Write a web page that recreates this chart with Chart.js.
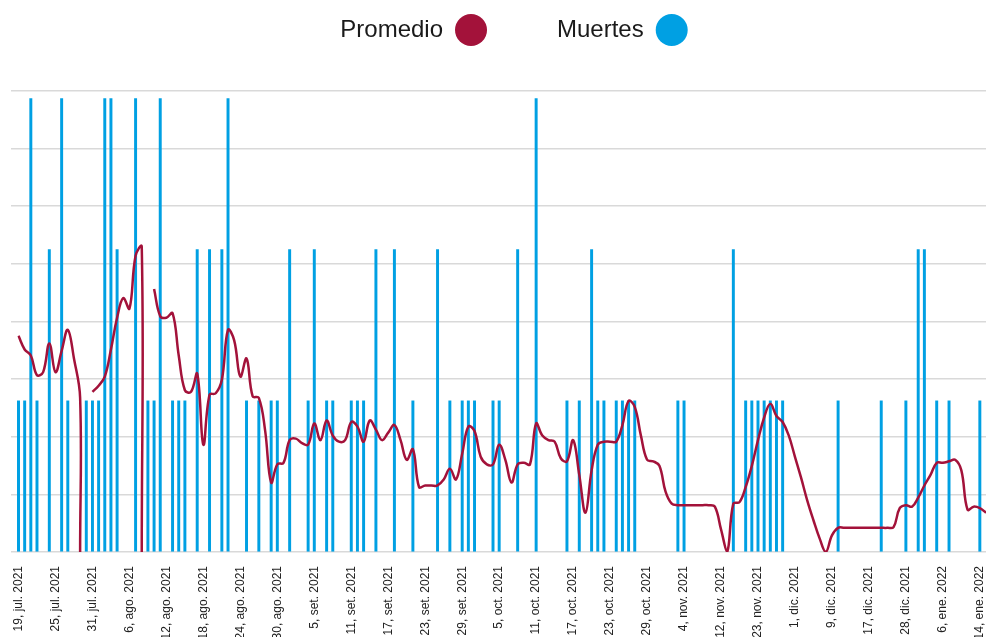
<!DOCTYPE html>
<html lang="es">
<head>
<meta charset="utf-8">
<title>Promedio y muertes</title>
<script src="https://cdn.jsdelivr.net/npm/chart.js@4.4.1/dist/chart.umd.min.js"></script>
<style>
  html, body { margin: 0; padding: 0; background: #fff; }
  #grafico { display: block; }
</style>
</head>
<body>
<canvas id="grafico" width="986" height="637"></canvas>
<script>
// --- datos ---
const fechas = [
  '19, jul. 2021', '20, jul. 2021', '21, jul. 2021', '22, jul. 2021', '23, jul. 2021', '24, jul. 2021',
  '25, jul. 2021', '26, jul. 2021', '27, jul. 2021', '28, jul. 2021', '29, jul. 2021', '30, jul. 2021',
  '31, jul. 2021', '1, ago. 2021', '2, ago. 2021', '3, ago. 2021', '4, ago. 2021', '5, ago. 2021',
  '6, ago. 2021', '7, ago. 2021', '8, ago. 2021', '9, ago. 2021', '10, ago. 2021', '11, ago. 2021',
  '12, ago. 2021', '13, ago. 2021', '14, ago. 2021', '15, ago. 2021', '16, ago. 2021', '17, ago. 2021',
  '18, ago. 2021', '19, ago. 2021', '20, ago. 2021', '21, ago. 2021', '22, ago. 2021', '23, ago. 2021',
  '24, ago. 2021', '25, ago. 2021', '26, ago. 2021', '27, ago. 2021', '28, ago. 2021', '29, ago. 2021',
  '30, ago. 2021', '31, ago. 2021', '1, set. 2021', '2, set. 2021', '3, set. 2021', '4, set. 2021',
  '5, set. 2021', '6, set. 2021', '7, set. 2021', '8, set. 2021', '9, set. 2021', '10, set. 2021',
  '11, set. 2021', '12, set. 2021', '13, set. 2021', '14, set. 2021', '15, set. 2021', '16, set. 2021',
  '17, set. 2021', '18, set. 2021', '19, set. 2021', '20, set. 2021', '21, set. 2021', '22, set. 2021',
  '23, set. 2021', '24, set. 2021', '25, set. 2021', '26, set. 2021', '27, set. 2021', '28, set. 2021',
  '29, set. 2021', '30, set. 2021', '1, oct. 2021', '2, oct. 2021', '3, oct. 2021', '4, oct. 2021',
  '5, oct. 2021', '6, oct. 2021', '7, oct. 2021', '8, oct. 2021', '9, oct. 2021', '10, oct. 2021',
  '11, oct. 2021', '12, oct. 2021', '13, oct. 2021', '14, oct. 2021', '15, oct. 2021', '16, oct. 2021',
  '17, oct. 2021', '18, oct. 2021', '19, oct. 2021', '20, oct. 2021', '21, oct. 2021', '22, oct. 2021',
  '23, oct. 2021', '24, oct. 2021', '25, oct. 2021', '26, oct. 2021', '27, oct. 2021', '28, oct. 2021',
  '29, oct. 2021', '30, oct. 2021', '31, oct. 2021', '1, nov. 2021', '2, nov. 2021', '3, nov. 2021',
  '4, nov. 2021', '5, nov. 2021', '8, nov. 2021', '9, nov. 2021', '10, nov. 2021', '11, nov. 2021',
  '12, nov. 2021', '15, nov. 2021', '16, nov. 2021', '17, nov. 2021', '18, nov. 2021', '19, nov. 2021',
  '23, nov. 2021', '24, nov. 2021', '25, nov. 2021', '26, nov. 2021', '29, nov. 2021', '30, nov. 2021',
  '1, dic. 2021', '2, dic. 2021', '3, dic. 2021', '6, dic. 2021', '7, dic. 2021', '8, dic. 2021',
  '9, dic. 2021', '10, dic. 2021', '13, dic. 2021', '14, dic. 2021', '15, dic. 2021', '16, dic. 2021',
  '17, dic. 2021', '20, dic. 2021', '21, dic. 2021', '22, dic. 2021', '23, dic. 2021', '27, dic. 2021',
  '28, dic. 2021', '29, dic. 2021', '30, dic. 2021', '3, ene. 2022', '4, ene. 2022', '5, ene. 2022',
  '6, ene. 2022', '7, ene. 2022', '10, ene. 2022', '11, ene. 2022', '12, ene. 2022', '13, ene. 2022',
  '14, ene. 2022', '17, ene. 2022'
];

// muertes por día (0 = sin barra)
const muertes = [
  1, 1, 3, 1, 0, 2, 0, 3, 1, 0,
  0, 1, 1, 1, 3, 3, 2, 0, 0, 3,
  0, 1, 1, 3, 0, 1, 1, 1, 0, 2,
  0, 2, 0, 2, 3, 0, 0, 1, 0, 1,
  0, 1, 1, 0, 2, 0, 0, 1, 2, 0,
  1, 1, 0, 0, 1, 1, 1, 0, 2, 0,
  0, 2, 0, 0, 1, 0, 0, 0, 2, 0,
  1, 0, 1, 1, 1, 0, 0, 1, 1, 0,
  0, 2, 0, 0, 3, 0, 0, 0, 0, 1,
  0, 1, 0, 2, 1, 1, 0, 1, 1, 1,
  1, 0, 0, 0, 0, 0, 0, 1, 1, 0,
  0, 0, 0, 0, 0, 0, 2, 0, 1, 1,
  1, 1, 1, 1, 1, 0, 0, 0, 0, 0,
  0, 0, 0, 1, 0, 0, 0, 0, 0, 0,
  1, 0, 0, 0, 1, 0, 2, 2, 0, 1,
  0, 1, 0, 0, 0, 0, 1, 0
];

// promedio (null = tramo sin dato)
const promedio = [
  1.43, 1.34, 1.30, 1.17, 1.19, 1.38, 1.19, 1.33, 1.47, 1.28,
  1.02, null, 1.06, 1.10, 1.16, 1.34, 1.55, 1.68, 1.61, 1.96,
  2.02, null, 1.74, 1.56, 1.55, 1.58, 1.30, 1.07, 1.06, 1.18,
  0.71, 1.04, 1.05, 1.14, 1.47, 1.40, 1.16, 1.28, 1.03, 1.02,
  0.81, 0.46, 0.58, 0.59, 0.74, 0.75, 0.72, 0.71, 0.85, 0.74,
  0.87, 0.77, 0.73, 0.74, 0.86, 0.83, 0.73, 0.87, 0.81, 0.74,
  0.79, 0.84, 0.74, 0.61, 0.68, 0.43, 0.44, 0.44, 0.44, 0.48,
  0.55, 0.48, 0.65, 0.83, 0.80, 0.63, 0.58, 0.58, 0.71, 0.61,
  0.46, 0.58, 0.59, 0.58, 0.85, 0.77, 0.74, 0.73, 0.62, 0.60,
  0.74, 0.51, 0.26, 0.54, 0.71, 0.73, 0.73, 0.73, 0.84, 1.00,
  0.96, 0.77, 0.61, 0.60, 0.57, 0.40, 0.32, 0.31, 0.31, 0.31,
  0.31, 0.31, 0.31, 0.30, 0.15, 0.00, 0.32, 0.33, 0.43, 0.57,
  0.74, 0.89, 0.98, 0.90, 0.86, 0.77, 0.63, 0.49, 0.34, 0.21,
  0.09, 0.00, 0.11, 0.16, 0.16, 0.16, 0.16, 0.16, 0.16, 0.16,
  0.16, 0.16, 0.165, 0.29, 0.31, 0.30, 0.36, 0.44, 0.51, 0.59,
  0.59, 0.60, 0.61, 0.54, 0.28, 0.30, 0.29, 0.26
];

// días en que la línea cae en vertical hasta cero antes del corte
const caidasACero = ['29, jul. 2021', '8, ago. 2021'];

const ROJO = '#a3123a';
const AZUL = '#00a0e3';

// la línea se arma como puntos {x, y} para poder repetir la fecha de la caída
const puntosPromedio = [];
fechas.forEach((f, i) => {
  puntosPromedio.push({ x: f, y: promedio[i] });
  if (caidasACero.includes(f)) puntosPromedio.push({ x: f, y: 0 });
});

// leyenda propia: texto y luego el círculo
const leyenda = {
  id: 'leyenda',
  afterDraw(chart) {
    const ctx = chart.ctx;
    const centro = 514, y = 30, radio = 16, sep = 12, hueco = 70;
    ctx.save();
    ctx.font = '24px "Liberation Sans", Arial, sans-serif';
    ctx.textBaseline = 'middle';
    ctx.textAlign = 'left';
    const items = chart.data.datasets.map(ds => ({
      texto: ds.label,
      color: ds.type === 'line' ? ds.borderColor : ds.backgroundColor,
      ancho: ctx.measureText(ds.label).width
    }));
    const total = items.reduce((s, it) => s + it.ancho + sep + 2 * radio, 0) + hueco * (items.length - 1);
    let x = centro - total / 2;
    items.forEach(it => {
      ctx.fillStyle = '#1a1a1a';
      ctx.fillText(it.texto, x, y);
      x += it.ancho + sep + radio;
      ctx.beginPath();
      ctx.arc(x, y, radio, 0, Math.PI * 2);
      ctx.fillStyle = it.color;
      ctx.fill();
      x += radio + hueco;
    });
    ctx.restore();
  }
};

new Chart(document.getElementById('grafico'), {
  type: 'bar',
  data: {
    labels: fechas,
    datasets: [
      {
        type: 'line',
        label: 'Promedio',
        data: puntosPromedio,
        borderColor: ROJO,
        backgroundColor: ROJO,
        borderWidth: 2.5,
        pointRadius: 0,
        tension: 0.4,
        spanGaps: false
      },
      {
        type: 'bar',
        label: 'Muertes',
        data: muertes.map(v => v || null),
        backgroundColor: AZUL,
        borderWidth: 0,
        barThickness: 2.3,
        clip: false
      }
    ]
  },
  options: {
    responsive: false,
    animation: false,
    devicePixelRatio: 1,
    layout: { padding: { top: 91, left: 11, right: 0, bottom: 0 } },
    plugins: {
      legend: { display: false },
      tooltip: { enabled: false }
    },
    scales: {
      x: {
        offset: false,
        grid: { display: false },
        border: { display: false },
        ticks: {
          autoSkip: false,
          maxRotation: 90,
          minRotation: 90,
          padding: 6,
          color: '#222',
          font: { family: '"Liberation Sans", Arial, sans-serif', size: 12 },
          callback: function (valor, i) {
            return i % 6 === 0 ? this.getLabelForValue(valor) : null;
          }
        },
        afterFit: (escala) => {
          escala.height = 85;
          escala.paddingLeft = 0;
          escala.paddingRight = 0;
        }
      },
      y: {
        min: 0,
        max: 3.05,
        border: { display: false },
        grid: { color: '#d9d9d9', lineWidth: 1.5, drawTicks: true, tickLength: 7.5 },
        ticks: { display: false, count: 9 }
      }
    }
  },
  plugins: [leyenda]
});
</script>
</body>
</html>
